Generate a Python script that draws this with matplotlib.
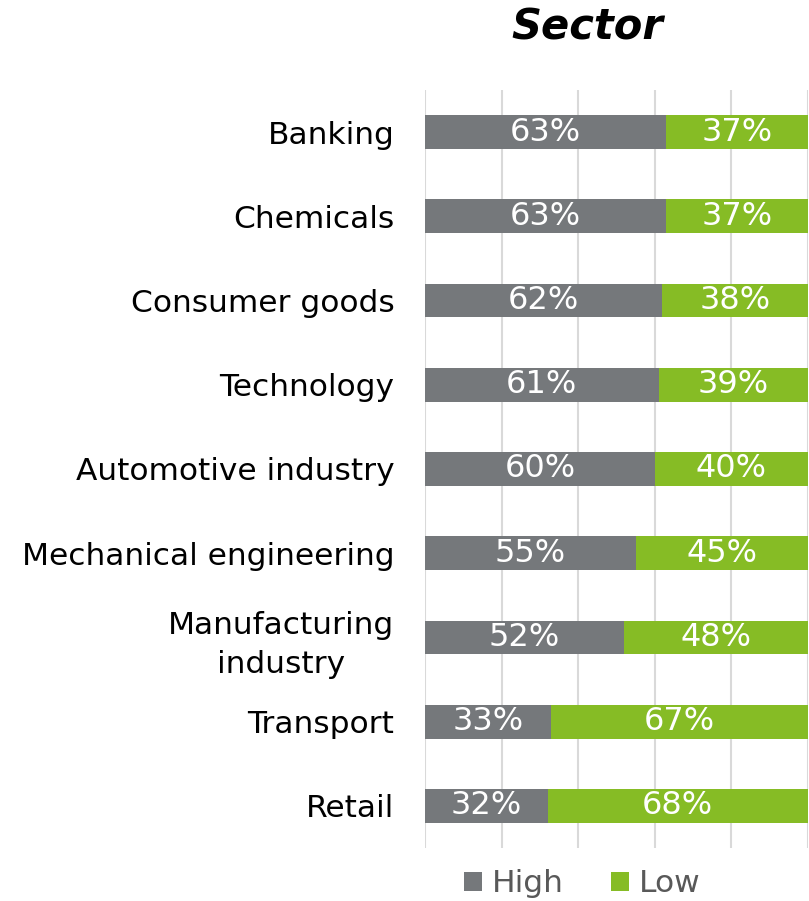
import matplotlib.pyplot as plt

sectors = ["Banking", "Chemicals", "Consumer goods", "Technology", "Automotive industry",
           "Mechanical engineering", "Manufacturing\nindustry", "Transport", "Retail"]
high = [63, 63, 62, 61, 60, 55, 52, 33, 32]
low = [37, 37, 38, 39, 40, 45, 48, 67, 68]

gray = "#75787B"
green = "#86BC25"

fig = plt.figure(figsize=(8.09, 9.01), dpi=100)
ax = fig.add_axes([425 / 809, 53 / 901, 383 / 809, 758 / 901])

y = list(range(len(sectors)))
ax.barh(y, high, height=0.4, color=gray, label="High", zorder=3)
ax.barh(y, low, left=high, height=0.4, color=green, label="Low", zorder=3)

for i in y:
    ax.text(high[i] / 2, i, f"{high[i]}%", ha="center", va="center",
            color="white", fontsize=23, zorder=4)
    ax.text(high[i] + low[i] / 2, i, f"{low[i]}%", ha="center", va="center",
            color="white", fontsize=23, zorder=4)

ax.set_xlim(0, 100)
ax.set_ylim(len(sectors) - 0.5, -0.5)
ax.set_xticks([0, 20, 40, 60, 80, 100])
ax.set_xticklabels([])
ax.tick_params(axis="both", length=0)
ax.set_yticks(y)
ax.set_yticklabels(sectors, fontsize=22.5, multialignment="center", linespacing=1.4)
ax.tick_params(axis="y", pad=22)
ax.grid(axis="x", color="#D9D9D9", linewidth=1.5, zorder=0)
for s in ax.spines.values():
    s.set_visible(False)

fig.text(587 / 809, 1 - 27 / 901, "Sector", ha="center", va="center",
         fontsize=30, fontweight="bold", fontstyle="italic")

fig.legend(loc="center", bbox_to_anchor=(582 / 809, 1 - 884 / 901), ncol=2,
           frameon=False, fontsize=22.5, handlelength=0.6, handleheight=0.6,
           handletextpad=0.3, columnspacing=1.5, labelcolor="#595959")

fig.savefig("out.png", dpi=100)
